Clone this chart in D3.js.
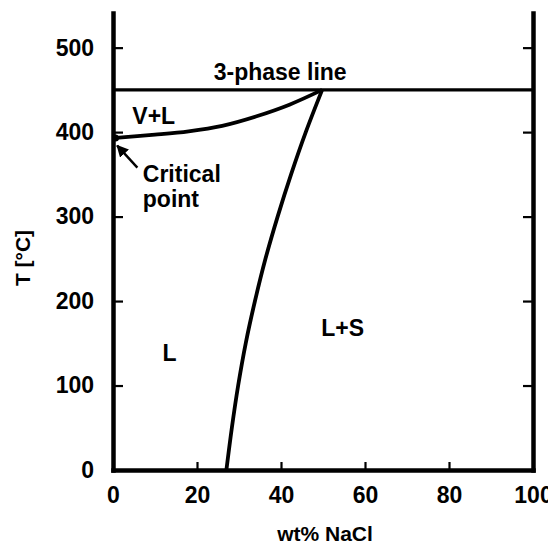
<!DOCTYPE html>
<html>
<head>
<meta charset="utf-8">
<script src="https://cdn.jsdelivr.net/npm/d3@7/dist/d3.min.js"></script>
<style>
  html, body { margin: 0; padding: 0; background: #fff; }
  svg { display: block; }
  text { font-family: "Liberation Sans", Arial, sans-serif; font-weight: bold; fill: #000; }
</style>
</head>
<body>
<svg id="chart" width="548" height="547"></svg>
<script>
// ---- data ----
const xTicks = [0, 20, 40, 60, 80, 100];
const yTicks = [0, 100, 200, 300, 400, 500];
// V+L boundary: wt% NaCl and T
const vlWt = [0, 10, 18, 26, 34, 42, 49.8];
const vlT  = [393, 397, 401, 407.5, 418.5, 432.5, 450];
// halite liquidus: T and wt% NaCl
const liqT  = [0, 50, 100, 150, 200, 250, 300, 350, 400, 450];
const liqWt = [27.0, 28.3, 29.8, 31.6, 33.8, 36.3, 39.2, 42.4, 45.9, 49.8];
const threePhaseT = 450;
const labels = [
  { text: "3-phase line", x: 39.8, T: 462, anchor: "middle" },
  { text: "V+L", x: 4.6, T: 410, anchor: "start" },
  { text: "Critical", x: 7.1, T: 341.5, anchor: "start" },
  { text: "point", x: 7.1, T: 311.5, anchor: "start" },
  { text: "L", x: 11.8, T: 129, anchor: "start" },
  { text: "L+S", x: 49.6, T: 158.5, anchor: "start" }
];
const arrowFrom = [5.8, 358];
const arrowTo = [1.0, 384];

// ---- scales ----
const svg = d3.select("#chart");
const x = d3.scaleLinear().domain([0, 100]).range([113, 533]);
const y = d3.scaleLinear().domain([0, 541]).range([470, 13]);
const FS = 23;

// axes
const gL = svg.append("g").attr("transform", `translate(${x(0)},0)`)
  .call(d3.axisLeft(y).tickValues(yTicks).tickSizeInner(-10).tickSizeOuter(0).tickPadding(19));
const gR = svg.append("g").attr("transform", `translate(${x(100)},0)`)
  .call(d3.axisRight(y).tickValues(yTicks.slice(1)).tickSizeInner(-10).tickSizeOuter(0).tickFormat(""));
const gB = svg.append("g").attr("transform", `translate(0,${y(0)})`)
  .call(d3.axisBottom(x).tickValues(xTicks).tickSizeInner(-8).tickSizeOuter(0).tickPadding(17));

[gL, gR, gB].forEach(g => {
  g.select(".domain").attr("stroke", "#000").attr("stroke-width", 4.5).attr("stroke-linecap", "square");
  g.selectAll(".tick line").attr("stroke", "#000").attr("stroke-width", 2.2);
  g.selectAll(".tick text").style("font-size", FS + "px").style("font-family", '"Liberation Sans", Arial, sans-serif').style("font-weight", "bold").attr("fill", "#000");
});
gL.selectAll(".tick").filter(d => d === 0).select("line").remove();
gB.selectAll(".tick").filter(d => d === 0 || d === 100).select("line").remove();

// axis titles
svg.append("text").attr("x", x(50) + 2).attr("y", 541).attr("text-anchor", "middle")
  .style("font-size", "21px").text("wt% NaCl");
svg.append("text").attr("transform", `translate(30,258) rotate(-90)`).attr("text-anchor", "middle")
  .style("font-size", "21px").text("T [°C]");

// 3-phase line
svg.append("line")
  .attr("x1", x(0)).attr("x2", x(100)).attr("y1", y(threePhaseT)).attr("y2", y(threePhaseT))
  .attr("stroke", "#000").attr("stroke-width", 3.4);

// V+L curve
const vlData = vlWt.map((w, i) => ({ w, T: vlT[i] }));
svg.append("path").datum(vlData)
  .attr("d", d3.line().x(d => x(d.w)).y(d => y(d.T)).curve(d3.curveCatmullRom))
  .attr("fill", "none").attr("stroke", "#000").attr("stroke-width", 3.8);

// liquidus
const liqData = liqT.map((T, i) => ({ w: liqWt[i], T }));
svg.append("path").datum(liqData)
  .attr("d", d3.line().x(d => x(d.w)).y(d => y(d.T)).curve(d3.curveCatmullRom))
  .attr("fill", "none").attr("stroke", "#000").attr("stroke-width", 3.8);

// critical point dot
svg.append("circle").attr("cx", x(0) + 2.5).attr("cy", y(vlT[0])).attr("r", 3.5).attr("fill", "#000");

// arrow
svg.append("defs").append("marker")
  .attr("id", "ah").attr("viewBox", "0 0 10 10").attr("refX", 9).attr("refY", 5)
  .attr("markerWidth", 5).attr("markerHeight", 5).attr("orient", "auto")
  .append("path").attr("d", "M0,0L10,5L0,10z").attr("fill", "#000");
svg.append("line")
  .attr("x1", x(arrowFrom[0])).attr("y1", y(arrowFrom[1]))
  .attr("x2", x(arrowTo[0])).attr("y2", y(arrowTo[1]))
  .attr("stroke", "#000").attr("stroke-width", 2.4).attr("marker-end", "url(#ah)");

// labels
svg.selectAll("text.lab").data(labels).enter().append("text")
  .attr("class", "lab")
  .attr("x", d => x(d.x)).attr("y", d => y(d.T))
  .attr("text-anchor", d => d.anchor)
  .style("font-size", FS + "px")
  .text(d => d.text);
</script>
</body>
</html>
